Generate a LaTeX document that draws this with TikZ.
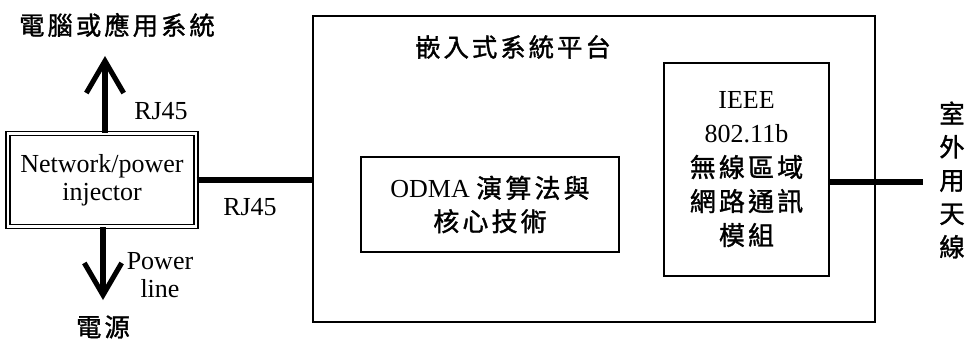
\documentclass[tikz,border=0pt]{standalone}
\usepackage{fontspec}
\setmainfont{Liberation Serif}
\newfontfamily\cjk{Noto Sans CJK TC}[LetterSpace=12,FakeBold=1.3]
\usetikzlibrary{arrows.meta,positioning}

\begin{document}
\begin{tikzpicture}[x=0.75pt,y=-0.75pt,>={Straight Barb[length=24pt,width=28pt]},
  box/.style={draw,line width=1.4pt,inner sep=0pt,align=center},
  lat/.style={font=\fontsize{19.5}{21}\selectfont},
  zh/.style={font=\fontsize{19}{25}\selectfont\cjk},
  wire/.style={line width=3.8pt}]
  \useasboundingbox (0,0) rectangle (969,346);
  % boxes
  \node[box,lat,double,line width=0.9pt,double distance=2.2pt,minimum width=141pt,minimum height=70pt]
    (inj) at (102,180) {Network/power\\injector};
  \node[box,minimum width=421.5pt,minimum height=229.5pt] (plat) at (594,169) {};
  \node[box,font=\fontsize{19.5}{25}\selectfont,minimum width=193.5pt,minimum height=71pt] (odma) at (490,204.5)
    {ODMA {\cjk 演算法與}\\{\cjk 核心技術}};
  \node[box,minimum width=124pt,minimum height=160pt,font=\fontsize{19.5}{25.5}\selectfont] (ieee) at (746.5,169.5)
    {IEEE\\802.11b\\{\cjk 無線區域}\\{\cjk 網路通訊}\\{\cjk 模組}};
  % labels
  \node[zh] (pc) at (117,25) {電腦或應用系統};
  \node[zh] (pwr) at (103,327) {電源};
  \node[zh] (ptitle) at (513,47) {嵌入式系統平台};
  \node[zh,align=center] (antlbl) at (952,180) {室\\外\\用\\天\\線};
  \node[lat] (rjup) at (161,111) {RJ45};
  \node[lat] (rjlow) at (250,207) {RJ45};
  \node[lat,align=center] (pline) at (160,275) {Power\\line};
  % connectors
  \coordinate (up) at (105,56);
  \coordinate (down) at (103,300);
  \coordinate (ant) at (923,182);
  \draw[wire,->] (inj.north -| up) -- (up);
  \draw[wire,->] (inj.south -| down) -- (down);
  \draw[wire] (inj.east) -- (inj.east -| plat.west);
  \draw[wire] (ieee.east |- ant) -- (ant);
\end{tikzpicture}
\end{document}
